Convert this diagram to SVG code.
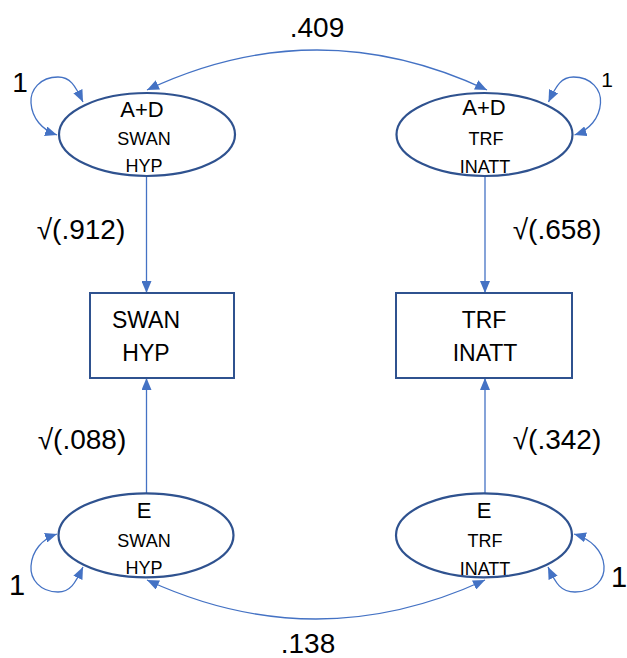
<svg xmlns="http://www.w3.org/2000/svg" width="627" height="658" viewBox="0 0 627 658">
  <style>
    .bg { fill: #ffffff; }
    .latent { fill: #ffffff; stroke: #2F528F; stroke-width: 2.2; }
    .obs { fill: #ffffff; stroke: #2F528F; stroke-width: 2; }
    .edge { fill: none; stroke: #4472C4; stroke-width: 1.3; }
    text { font-family: "Liberation Sans", Arial, sans-serif; fill: #000000; text-anchor: middle; }
    .coef { font-size: 28px; }
    .big { font-size: 22px; }
    .small { font-size: 18px; }
    .box { font-size: 23px; }
  </style>
  <defs>
    <marker id="arrow" viewBox="0 0 12 10" refX="12" refY="5" markerWidth="12" markerHeight="10" markerUnits="userSpaceOnUse" orient="auto-start-reverse">
      <path d="M0,0 L12,5 L0,10 z" fill="#4472C4"/>
    </marker>
  </defs>

  <rect class="bg" x="0" y="0" width="627" height="658"/>

  <!-- connectors -->
  <g id="connectors">
    <!-- covariance between the A+D factors -->
    <path class="edge" d="M147,90 Q317,10 487,90" marker-start="url(#arrow)" marker-end="url(#arrow)"/>
    <!-- covariance between the E factors -->
    <path class="edge" d="M147,580 Q316,658 485,580" marker-start="url(#arrow)" marker-end="url(#arrow)"/>
    <!-- variance self-loops -->
    <path class="edge" d="M83,102 C75,85 70,77 58,77 C40,77 30,90 31,103 C32,118 42,130 57,135" marker-start="url(#arrow)" marker-end="url(#arrow)"/>
    <path class="edge" d="M548.5,102 C556.5,85 561.5,77 573.5,77 C591.5,77 601.5,90 600.5,103 C599.5,118 589.5,130 574.5,135" marker-start="url(#arrow)" marker-end="url(#arrow)"/>
    <path class="edge" d="M83,567 C75,584 70,592 58,592 C40,592 30,579 31,566 C32,551 42,539 57,534" marker-start="url(#arrow)" marker-end="url(#arrow)"/>
    <path class="edge" d="M548,567 C556,584 561,592 575,592 C595,592 605,579 604,566 C603,551 591,539 574,534" marker-start="url(#arrow)" marker-end="url(#arrow)"/>
    <!-- loadings -->
    <line class="edge" x1="146.5" y1="176" x2="146.5" y2="293" marker-end="url(#arrow)"/>
    <line class="edge" x1="146.5" y1="493" x2="146.5" y2="378" marker-end="url(#arrow)"/>
    <line class="edge" x1="485" y1="177" x2="485" y2="293" marker-end="url(#arrow)"/>
    <line class="edge" x1="485" y1="493" x2="485" y2="378" marker-end="url(#arrow)"/>
  </g>

  <!-- edge labels -->
  <g id="labels">
    <text class="coef" x="317" y="37">.409</text>
    <text class="coef" x="308" y="653">.138</text>
    <text class="coef" x="81" y="239">√(.912)</text>
    <text class="coef" x="557" y="239">√(.658)</text>
    <text class="coef" x="82" y="449">√(.088)</text>
    <text class="coef" x="557" y="449">√(.342)</text>
    <text x="20" y="92" style="font-size:28px">1</text>
    <text x="607" y="87" style="font-size:21px">1</text>
    <text x="17" y="595" style="font-size:29px">1</text>
    <text x="619" y="587" style="font-size:29px">1</text>
  </g>

  <g id="ad-swan-hyp">
    <ellipse class="latent" cx="147" cy="134.5" rx="88" ry="41.5"/>
    <text class="big" x="142" y="117">A+D</text>
    <text class="small" x="144" y="145">SWAN</text>
    <text class="small" x="144" y="172">HYP</text>
  </g>

  <g id="ad-trf-inatt">
    <ellipse class="latent" cx="484.5" cy="134.5" rx="88" ry="41.5"/>
    <text class="big" x="484" y="115">A+D</text>
    <text class="small" x="486" y="145">TRF</text>
    <text class="small" x="485" y="173">INATT</text>
  </g>

  <g id="obs-swan-hyp">
    <rect class="obs" x="90" y="293" width="144" height="85"/>
    <text class="box" x="146" y="328">SWAN</text>
    <text class="box" x="146" y="361">HYP</text>
  </g>

  <g id="obs-trf-inatt">
    <rect class="obs" x="396" y="293" width="176" height="85"/>
    <text class="box" x="484" y="328">TRF</text>
    <text class="box" x="485" y="361">INATT</text>
  </g>

  <g id="e-swan-hyp">
    <ellipse class="latent" cx="146" cy="535.3" rx="87.5" ry="42"/>
    <text class="big" x="144" y="518">E</text>
    <text class="small" x="144" y="547">SWAN</text>
    <text class="small" x="144" y="574">HYP</text>
  </g>

  <g id="e-trf-inatt">
    <ellipse class="latent" cx="484" cy="535.3" rx="88" ry="42"/>
    <text class="big" x="484" y="518">E</text>
    <text class="small" x="485" y="547">TRF</text>
    <text class="small" x="485" y="575">INATT</text>
  </g>
</svg>
